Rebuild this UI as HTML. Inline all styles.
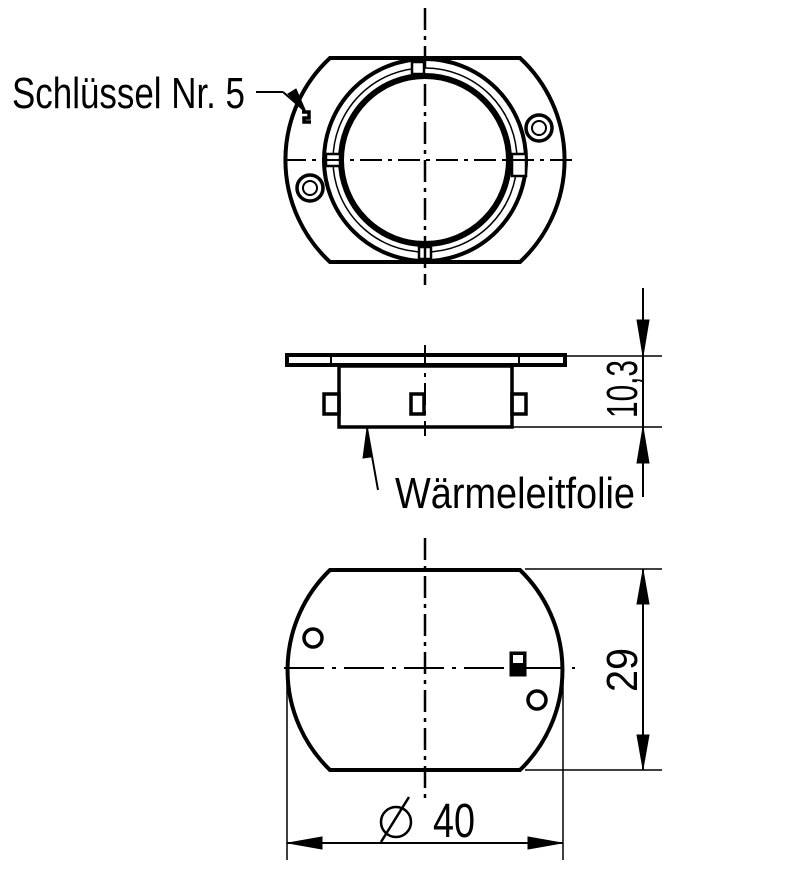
<!DOCTYPE html>
<html><head><meta charset="utf-8"><style>
html,body{margin:0;padding:0;background:#fff}
svg{display:block}
text{font-family:"Liberation Sans",sans-serif;fill:#000}
</style></head><body>
<svg width="800" height="876" viewBox="0 0 800 876" xmlns="http://www.w3.org/2000/svg">
<g stroke="#000" fill="none">
<!-- Top view -->
<path d="M330,58 L520,58 A139,139 0 0 1 520,262 L330,262 A139,139 0 0 1 330,58 Z" stroke-width="4"/>
<circle cx="425" cy="160" r="101" stroke-width="4"/>
<circle cx="425" cy="160" r="84" stroke-width="6"/>
<circle cx="425" cy="160" r="92" stroke-width="1.5"/>
<rect x="412" y="62" width="12" height="12" fill="#fff" stroke-width="2.5"/>
<rect x="419" y="247" width="12" height="12" fill="#fff" stroke-width="2.5"/>
<rect x="326" y="154" width="14" height="12" fill="#fff" stroke-width="2.5"/>
<rect x="512" y="154" width="14" height="22" fill="#fff" stroke-width="2.5"/>
<circle cx="310" cy="188" r="13" stroke-width="3.5"/><circle cx="310" cy="188" r="7" stroke-width="2"/>
<circle cx="539" cy="128" r="13" stroke-width="3.5"/><circle cx="539" cy="128" r="7" stroke-width="2"/>
<path d="M302,112 h7 v6 h-5 v4 h7" stroke-width="3.5"/>
<line x1="425" y1="8" x2="425" y2="285" stroke-width="2.5" stroke-dasharray="22,6,4,6"/>
<line x1="284" y1="160" x2="578" y2="160" stroke-width="2" stroke-dasharray="22,6,4,6"/>
<line x1="256" y1="92" x2="283" y2="92" stroke-width="2"/>
<line x1="283" y1="92" x2="306" y2="112" stroke-width="2"/>
<polygon points="306,112 288,94 296,89" fill="#000" stroke-width="1"/>
<!-- Side view -->
<rect x="287" y="355" width="278" height="10" stroke-width="4"/>
<line x1="331" y1="356" x2="331" y2="365" stroke-width="2"/>
<line x1="519" y1="356" x2="519" y2="365" stroke-width="2"/>
<rect x="339" y="366" width="173" height="61" stroke-width="3.5"/>
<rect x="324" y="394" width="15" height="20" stroke-width="3.5"/>
<rect x="411" y="394" width="13" height="20" stroke-width="3.5"/>
<rect x="512" y="394" width="14" height="20" stroke-width="3.5"/>
<line x1="425" y1="345" x2="425" y2="436" stroke-width="2" stroke-dasharray="22,6,4,6"/>
<line x1="565" y1="356" x2="662" y2="356" stroke-width="1.5"/>
<line x1="512" y1="427" x2="662" y2="427" stroke-width="1.5"/>
<line x1="643" y1="288" x2="643" y2="497" stroke-width="2"/>
<polygon points="643,356 637,320 649,320" fill="#000"/>
<polygon points="643,427 637,463 649,463" fill="#000"/>
<line x1="378" y1="490" x2="367" y2="428" stroke-width="2"/>
<polygon points="367,428 371,457 363,458" fill="#000"/>
<!-- Bottom view -->
<path d="M330,570 L520,570 A139,139 0 0 1 520,770 L330,770 A139,139 0 0 1 330,570 Z" stroke-width="4"/>
<circle cx="313" cy="638" r="9" stroke-width="3.5"/>
<circle cx="537" cy="700" r="9" stroke-width="3.5"/>
<rect x="510" y="652" width="16" height="24" fill="#000" stroke-width="1"/>
<rect x="513" y="655" width="10" height="8" fill="#fff" stroke="none"/>
<line x1="425" y1="538" x2="425" y2="800" stroke-width="2.5" stroke-dasharray="22,6,4,6"/>
<line x1="284" y1="668" x2="575" y2="668" stroke-width="2" stroke-dasharray="40,8,4,8"/>
<line x1="525" y1="569" x2="662" y2="569" stroke-width="1.5"/>
<line x1="525" y1="770" x2="662" y2="770" stroke-width="1.5"/>
<line x1="643" y1="569" x2="643" y2="770" stroke-width="2"/>
<polygon points="643,570 637,604 649,604" fill="#000"/>
<polygon points="643,769 637,735 649,735" fill="#000"/>
<line x1="287" y1="668" x2="287" y2="860" stroke-width="1.5"/>
<line x1="563" y1="668" x2="563" y2="860" stroke-width="1.5"/>
<line x1="287" y1="843" x2="563" y2="843" stroke-width="2"/>
<polygon points="288,843 322,837 322,849" fill="#000"/>
<polygon points="562,843 528,837 528,849" fill="#000"/>
<circle cx="396" cy="822" r="15" stroke-width="2.5"/>
<line x1="381" y1="842" x2="409" y2="797" stroke-width="2.5"/>
</g>
<text x="12" y="108" font-size="44" textLength="233" lengthAdjust="spacingAndGlyphs">Schlüssel Nr. 5</text>
<text x="395" y="508" font-size="44" textLength="240" lengthAdjust="spacingAndGlyphs">Wärmeleitfolie</text>
<text x="433" y="837" font-size="48" textLength="42" lengthAdjust="spacingAndGlyphs">40</text>
<text font-size="44" transform="translate(637 418) rotate(-90)" textLength="58" lengthAdjust="spacingAndGlyphs">10,3</text>
<text font-size="44" transform="translate(637 692) rotate(-90)" textLength="44" lengthAdjust="spacingAndGlyphs">29</text>
</svg>
</body></html>
